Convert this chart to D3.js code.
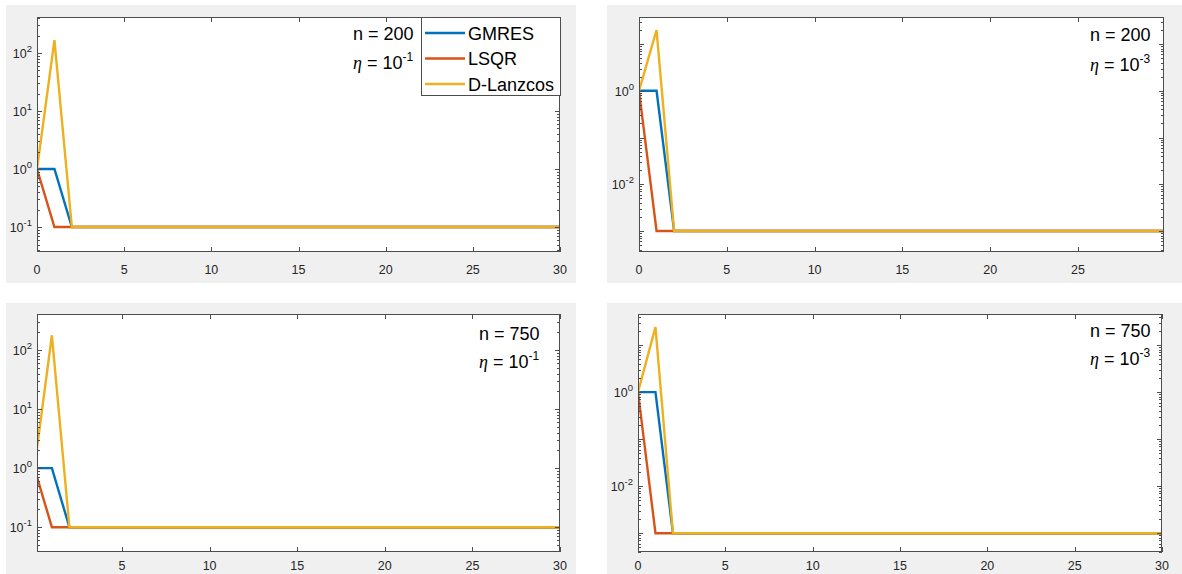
<!DOCTYPE html>
<html lang="en">
<head>
  <meta charset="UTF-8" />
  <title>Residual histories</title>
  <script src="https://d3js.org/d3.v7.min.js"></script>
  <style>
    body {
      margin: 0;
      background: #fff;
      font-family: "Liberation Sans", Arial, sans-serif;
    }
    svg { display: block; }
    .tick-label { font-size: 12.5px; fill: #262626; }
    .note { font-size: 18px; fill: #000; }
    .legend-text { font-size: 18px; fill: #000; }
  </style>
</head>
<body>
  <svg width="1182" height="574"></svg>

  <script>
    // iteration index (x axis)
    const iters = [0, 1, 2, 3, 4, 5, 6, 7, 8, 9, 10, 11, 12, 13, 14, 15,
                   16, 17, 18, 19, 20, 21, 22, 23, 24, 25, 26, 27, 28, 29, 30];

    const seriesNames = ["GMRES", "LSQR", "D-Lanzcos"];
    const seriesColors = ["#0072BD", "#D95319", "#EDB120"];

    // n = 200, eta = 1e-1
    const gmres200a = [1, 1, 0.1, 0.1, 0.1, 0.1, 0.1, 0.1, 0.1, 0.1, 0.1, 0.1, 0.1, 0.1, 0.1, 0.1,
                       0.1, 0.1, 0.1, 0.1, 0.1, 0.1, 0.1, 0.1, 0.1, 0.1, 0.1, 0.1, 0.1, 0.1, 0.1];
    const lsqr200a  = [1, 0.1, 0.1, 0.1, 0.1, 0.1, 0.1, 0.1, 0.1, 0.1, 0.1, 0.1, 0.1, 0.1, 0.1, 0.1,
                       0.1, 0.1, 0.1, 0.1, 0.1, 0.1, 0.1, 0.1, 0.1, 0.1, 0.1, 0.1, 0.1, 0.1, 0.1];
    const dlan200a  = [1, 166, 0.1, 0.1, 0.1, 0.1, 0.1, 0.1, 0.1, 0.1, 0.1, 0.1, 0.1, 0.1, 0.1, 0.1,
                       0.1, 0.1, 0.1, 0.1, 0.1, 0.1, 0.1, 0.1, 0.1, 0.1, 0.1, 0.1, 0.1, 0.1, 0.1];

    // n = 200, eta = 1e-3
    const gmres200b = [1, 1, 0.001, 0.001, 0.001, 0.001, 0.001, 0.001, 0.001, 0.001, 0.001, 0.001, 0.001, 0.001, 0.001, 0.001,
                       0.001, 0.001, 0.001, 0.001, 0.001, 0.001, 0.001, 0.001, 0.001, 0.001, 0.001, 0.001, 0.001, 0.001, 0.001];
    const lsqr200b  = [1, 0.001, 0.001, 0.001, 0.001, 0.001, 0.001, 0.001, 0.001, 0.001, 0.001, 0.001, 0.001, 0.001, 0.001, 0.001,
                       0.001, 0.001, 0.001, 0.001, 0.001, 0.001, 0.001, 0.001, 0.001, 0.001, 0.001, 0.001, 0.001, 0.001, 0.001];
    const dlan200b  = [1, 20, 0.001, 0.001, 0.001, 0.001, 0.001, 0.001, 0.001, 0.001, 0.001, 0.001, 0.001, 0.001, 0.001, 0.001,
                       0.001, 0.001, 0.001, 0.001, 0.001, 0.001, 0.001, 0.001, 0.001, 0.001, 0.001, 0.001, 0.001, 0.001, 0.001];

    // n = 750, eta = 1e-1
    const gmres750a = [1, 1, 0.1, 0.1, 0.1, 0.1, 0.1, 0.1, 0.1, 0.1, 0.1, 0.1, 0.1, 0.1, 0.1, 0.1,
                       0.1, 0.1, 0.1, 0.1, 0.1, 0.1, 0.1, 0.1, 0.1, 0.1, 0.1, 0.1, 0.1, 0.1, 0.1];
    const lsqr750a  = [1, 0.1, 0.1, 0.1, 0.1, 0.1, 0.1, 0.1, 0.1, 0.1, 0.1, 0.1, 0.1, 0.1, 0.1, 0.1,
                       0.1, 0.1, 0.1, 0.1, 0.1, 0.1, 0.1, 0.1, 0.1, 0.1, 0.1, 0.1, 0.1, 0.1, 0.1];
    const dlan750a  = [1, 178, 0.1, 0.1, 0.1, 0.1, 0.1, 0.1, 0.1, 0.1, 0.1, 0.1, 0.1, 0.1, 0.1, 0.1,
                       0.1, 0.1, 0.1, 0.1, 0.1, 0.1, 0.1, 0.1, 0.1, 0.1, 0.1, 0.1, 0.1, 0.1, 0.1];

    // n = 750, eta = 1e-3
    const gmres750b = [1, 1, 0.001, 0.001, 0.001, 0.001, 0.001, 0.001, 0.001, 0.001, 0.001, 0.001, 0.001, 0.001, 0.001, 0.001,
                       0.001, 0.001, 0.001, 0.001, 0.001, 0.001, 0.001, 0.001, 0.001, 0.001, 0.001, 0.001, 0.001, 0.001, 0.001];
    const lsqr750b  = [1, 0.001, 0.001, 0.001, 0.001, 0.001, 0.001, 0.001, 0.001, 0.001, 0.001, 0.001, 0.001, 0.001, 0.001, 0.001,
                       0.001, 0.001, 0.001, 0.001, 0.001, 0.001, 0.001, 0.001, 0.001, 0.001, 0.001, 0.001, 0.001, 0.001, 0.001];
    const dlan750b  = [1, 24, 0.001, 0.001, 0.001, 0.001, 0.001, 0.001, 0.001, 0.001, 0.001, 0.001, 0.001, 0.001, 0.001, 0.001,
                       0.001, 0.001, 0.001, 0.001, 0.001, 0.001, 0.001, 0.001, 0.001, 0.001, 0.001, 0.001, 0.001, 0.001, 0.001];

    const xTicksA = [0, 5, 10, 15, 20, 25, 30];
    const xTicksB = [0, 5, 10, 15, 20, 25];
    const xTicksC = [5, 10, 15, 20, 25, 30];
    const yExpA = [-1, 0, 1, 2];
    const yExpB = [-2, 0];

    const panels = [
      { id: "p1", bg: [6, 5, 570, 278], box: [37, 17, 560, 252], xDom: [0, 30], yDom: [-1.43, 2.62],
        xTicks: xTicksA, yLabels: yExpA, n: "200", eta: "-1", noteX: 353, noteY: [40, 69], labelDy: 22,
        legend: true, series: [gmres200a, lsqr200a, dlan200a] },
      { id: "p2", bg: [607, 5, 575, 278], box: [639, 17, 1164, 252], xDom: [0, 29.9], yDom: [-3.45, 1.58],
        xTicks: xTicksB, yLabels: yExpB, n: "200", eta: "-3", noteX: 1090, noteY: [41, 71], labelDy: 22,
        legend: false, series: [gmres200b, lsqr200b, dlan200b] },
      { id: "p3", bg: [6, 303, 570, 271], box: [37, 314, 560, 552], xDom: [0.15, 30], yDom: [-1.42, 2.61],
        xTicks: xTicksC, yLabels: yExpA, n: "750", eta: "-1", noteX: 479, noteY: [340, 368], labelDy: 18,
        legend: false, series: [gmres750a, lsqr750a, dlan750a] },
      { id: "p4", bg: [607, 303, 575, 271], box: [638, 314, 1162, 552], xDom: [0, 30], yDom: [-3.40, 1.66],
        xTicks: xTicksA, yLabels: yExpB, n: "750", eta: "-3", noteX: 1090, noteY: [337, 365], labelDy: 18,
        legend: false, series: [gmres750b, lsqr750b, dlan750b] }
    ];

    const svg = d3.select("svg");
    const axisColor = "#4d4d4d";

    panels.forEach(p => {
      const [x0, y0, x1, y1] = p.box;
      const g = svg.append("g");

      g.append("rect")
        .attr("x", p.bg[0]).attr("y", p.bg[1])
        .attr("width", p.bg[2]).attr("height", p.bg[3])
        .attr("fill", "#f0f0f0");

      g.append("rect")
        .attr("x", x0).attr("y", y0)
        .attr("width", x1 - x0).attr("height", y1 - y0)
        .attr("fill", "#fff");

      const x = d3.scaleLinear().domain(p.xDom).range([x0, x1]);
      const y = d3.scaleLog()
        .domain([Math.pow(10, p.yDom[0]), Math.pow(10, p.yDom[1])])
        .range([y1, y0]);

      g.append("clipPath").attr("id", "clip-" + p.id)
        .append("rect")
        .attr("x", x0).attr("y", y0)
        .attr("width", x1 - x0).attr("height", y1 - y0);

      // lines
      const line = d3.line()
        .x((d, i) => x(iters[i]))
        .y(d => y(d));

      p.series.forEach((s, k) => {
        g.append("path")
          .datum(s)
          .attr("clip-path", `url(#clip-${p.id})`)
          .attr("fill", "none")
          .attr("stroke", seriesColors[k])
          .attr("stroke-width", 2.4)
          .attr("stroke-linejoin", "miter")
          .attr("d", line);
      });

      // box
      g.append("rect")
        .attr("x", x0 + 0.5).attr("y", y0 + 0.5)
        .attr("width", x1 - x0 - 1).attr("height", y1 - y0 - 1)
        .attr("fill", "none")
        .attr("stroke", axisColor)
        .attr("stroke-width", 1);

      // x ticks (inward, bottom and top)
      const xt = x.ticks(6).filter(v => v >= p.xDom[0] && v <= p.xDom[1]);
      xt.forEach(v => {
        const px = Math.round(x(v)) + 0.5;
        g.append("line").attr("x1", px).attr("x2", px).attr("y1", y1).attr("y2", y1 - 5)
          .attr("stroke", axisColor);
        g.append("line").attr("x1", px).attr("x2", px).attr("y1", y0).attr("y2", y0 + 5)
          .attr("stroke", axisColor);
      });
      p.xTicks.forEach(v => {
        g.append("text")
          .attr("class", "tick-label")
          .attr("x", x(v))
          .attr("y", y1 + p.labelDy)
          .attr("text-anchor", "middle")
          .text(v);
      });

      // y ticks on log scale: decades + minor
      const lo = Math.floor(p.yDom[0]), hi = Math.ceil(p.yDom[1]);
      for (let d = lo; d <= hi; d++) {
        for (let m = 1; m <= 9; m++) {
          const v = m * Math.pow(10, d);
          if (v < y.domain()[0] || v > y.domain()[1]) continue;
          const py = Math.round(y(v)) + 0.5;
          const len = m === 1 ? 5 : 3;
          g.append("line").attr("x1", x0).attr("x2", x0 + len).attr("y1", py).attr("y2", py)
            .attr("stroke", axisColor);
          g.append("line").attr("x1", x1).attr("x2", x1 - len).attr("y1", py).attr("y2", py)
            .attr("stroke", axisColor);
        }
      }
      p.yLabels.forEach(e => {
        const t = g.append("text")
          .attr("class", "tick-label")
          .attr("x", x0 - 5)
          .attr("y", y(Math.pow(10, e)) + 5)
          .attr("text-anchor", "end");
        t.append("tspan").text("10");
        t.append("tspan").attr("dy", -6).attr("font-size", "9.5px").text(e);
      });

      // annotation
      g.append("text").attr("class", "note")
        .attr("x", p.noteX).attr("y", p.noteY[0])
        .text("n = " + p.n);
      const eta = g.append("text").attr("class", "note")
        .attr("x", p.noteX).attr("y", p.noteY[1]);
      eta.append("tspan")
        .attr("font-family", "'Liberation Serif', serif")
        .attr("font-style", "italic")
        .text("\u03B7");
      eta.append("tspan").text(" = 10");
      eta.append("tspan").attr("dy", -8).attr("font-size", "12px").text(p.eta);

      // legend
      if (p.legend) {
        const lg = g.append("g");
        lg.append("rect")
          .attr("x", 421.5).attr("y", 17.5)
          .attr("width", 139).attr("height", 78)
          .attr("fill", "#fff")
          .attr("stroke", axisColor);
        seriesNames.forEach((name, k) => {
          const ly = 33 + k * 25.5;
          lg.append("line")
            .attr("x1", 425).attr("x2", 465)
            .attr("y1", ly).attr("y2", ly)
            .attr("stroke", seriesColors[k])
            .attr("stroke-width", 2.4);
          lg.append("text").attr("class", "legend-text")
            .attr("x", 468).attr("y", ly + 6.5)
            .text(name);
        });
      }
    });
  </script>
</body>
</html>
